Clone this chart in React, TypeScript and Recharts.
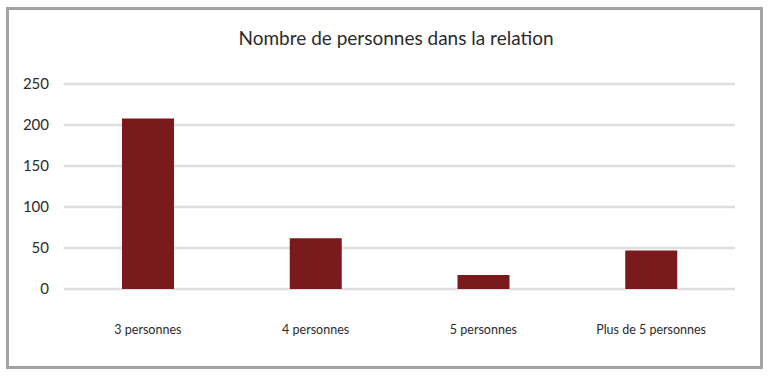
import { BarChart, Bar, XAxis, YAxis, CartesianGrid } from 'recharts'

// Nombre de personnes dans la relation
const categories = ['3 personnes', '4 personnes', '5 personnes', 'Plus de 5 personnes']
const counts = [208, 62, 17, 47]
const yTicks = [0, 50, 100, 150, 200, 250]

const data = categories.map((name, i) => ({ name, count: counts[i] }))

export default function App() {
    return (
        <div style={{ position: 'absolute', left: 0, top: 0, width: 768, height: 376, background: '#fff', fontFamily: 'Lato, sans-serif' }}>
            <div
                style={{
                    position: 'absolute',
                    left: 6,
                    top: 7,
                    width: 751,
                    height: 356,
                    border: '3px solid #a3a3a3',
                }}
            />
            <div
                style={{
                    position: 'absolute',
                    left: 0,
                    width: 792,
                    top: 26,
                    textAlign: 'center',
                    fontSize: 19,
                    color: '#2b2b2b',
                }}
            >
                Nombre de personnes dans la relation
            </div>
            <div style={{ position: 'absolute', left: 0, top: 0 }}>
                <BarChart
                    width={768}
                    height={376}
                    data={data}
                    margin={{ top: 84, right: 33, bottom: 37, left: 14 }}
                    barSize={52}
                >
                    <CartesianGrid vertical={false} stroke="#dedede" strokeWidth={2.5} />
                    <XAxis
                        dataKey="name"
                        axisLine={false}
                        tickLine={false}
                        height={50}
                        tickMargin={30}
                        tick={{ fontSize: 12.5, fill: '#2b2b2b' }}
                    />
                    <YAxis
                        domain={[0, 250]}
                        ticks={yTicks}
                        axisLine={false}
                        tickLine={false}
                        width={50}
                        tickMargin={9}
                        tick={{ fontSize: 15, fill: '#2b2b2b' }}
                    />
                    <Bar dataKey="count" fill="#7a1a1c" isAnimationActive={false} />
                </BarChart>
            </div>
        </div>
    )
}
